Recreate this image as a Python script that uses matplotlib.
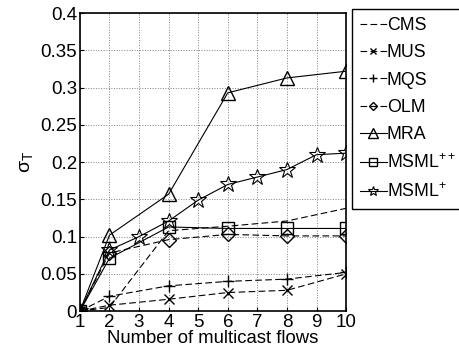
import numpy as np
import matplotlib
matplotlib.use('Agg')
import matplotlib.pyplot as plt

plt.rcParams['font.family'] = ['Liberation Sans', 'DejaVu Sans']
plt.rcParams['mathtext.fontset'] = 'custom'
plt.rcParams['mathtext.rm'] = 'Liberation Sans'
plt.rcParams['mathtext.it'] = 'Liberation Sans'

# data
x_main = [1, 2, 4, 6, 8, 10]
x_star = [1, 2, 3, 4, 5, 6, 7, 8, 9, 10]
cms = [0, 0.005, 0.108, 0.114, 0.121, 0.138]
mus = [0, 0.008, 0.016, 0.025, 0.028, 0.05]
mqs = [0, 0.02, 0.034, 0.04, 0.043, 0.052]
olm = [0, 0.078, 0.096, 0.103, 0.101, 0.101]
mra = [0, 0.102, 0.157, 0.293, 0.313, 0.322]
msml_pp = [0, 0.071, 0.113, 0.111, 0.111, 0.111]
msml_p = [0, 0.082, 0.1, 0.121, 0.149, 0.17, 0.18, 0.19, 0.21, 0.212]

fig = plt.figure(figsize=(4.59, 3.54), dpi=100)
ax = fig.add_axes([0.174, 0.121, 0.580, 0.842])

ms = 9
dash = (0, (6, 3))
ax.plot(x_main, cms, ls=dash, color='k', lw=0.8, label='CMS')
ax.plot(x_main, mus, ls=dash, color='k', lw=0.8, marker='x', ms=ms-2, mfc='none', label='MUS')
ax.plot(x_main, mqs, ls=dash, color='k', lw=0.8, marker='+', ms=ms, mfc='none', label='MQS')
ax.plot(x_main, olm, ls=dash, color='k', lw=0.8, marker='D', ms=ms-2, mfc='none', label='OLM')
ax.plot(x_main, mra, '-', color='k', lw=0.8, marker='^', ms=ms+1, mfc='none', label='MRA')
ax.plot(x_main, msml_pp, '-', color='k', lw=0.8, marker='s', ms=ms-1, mfc='none', label='MSML$^{++}$')
ax.plot(x_star, msml_p, '-', color='k', lw=0.8, marker='*', ms=ms+3, mfc='none', mew=0.8, label='MSML$^{+}$')

ax.set_xlim(1, 10)
ax.set_ylim(0, 0.4)
ax.set_xticks(range(1, 11))
ax.set_yticks(np.arange(0, 0.41, 0.05))
ax.set_yticklabels(['0', '0.05', '0.1', '0.15', '0.2', '0.25', '0.3', '0.35', '0.4'])
ax.tick_params(direction='in', labelsize=13.5, pad=2, length=3)
ax.grid(True, linestyle=':', color='gray', linewidth=0.7)
for s in ax.spines.values():
    s.set_linewidth(1.2)

ax.set_xlabel('Number of multicast flows', fontsize=13.3, labelpad=-1)
ax.set_ylabel(r'$\sigma_T$', fontsize=14, labelpad=4)

fig.legend(loc='upper left', bbox_to_anchor=(352 / 459, 1 - 9 / 354), fontsize=12.8,
           handlelength=1.5, handletextpad=0.0, borderaxespad=0, borderpad=0.45,
           labelspacing=0.58, markerscale=0.65, fancybox=False, edgecolor='k',
           framealpha=1)

fig.savefig('out.png', dpi=100)
